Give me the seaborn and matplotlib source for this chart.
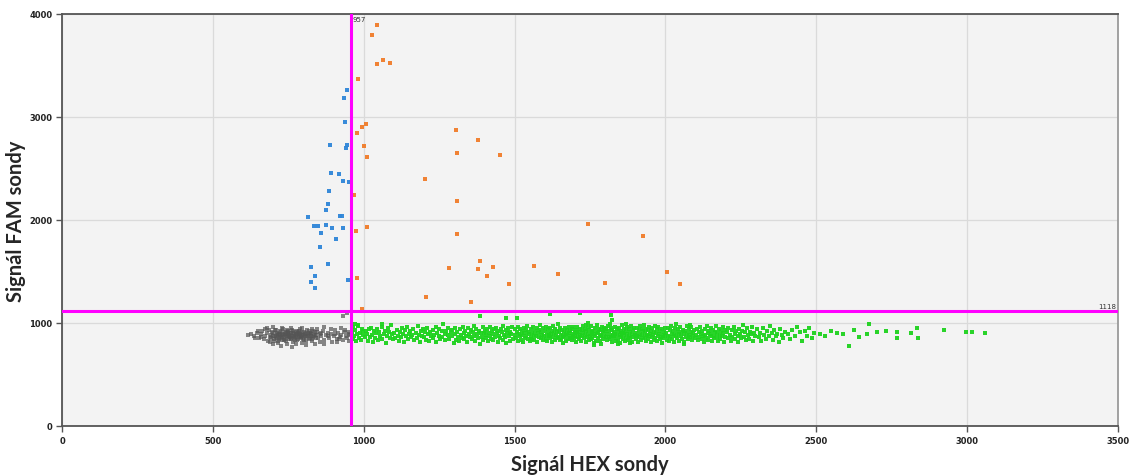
import matplotlib
matplotlib.use("Agg")
import matplotlib.pyplot as plt
import seaborn as sns
import pandas as pd

# Droplet amplitudes (HEX channel, FAM channel) per cluster
FAM_POSITIVE = [
    (944, 3265), (935, 3181), (939, 2951), (889, 2728), (944, 2731), (941, 2702),
    (892, 2459), (918, 2447), (932, 2375), (951, 2366), (885, 2282), (883, 2152),
    (876, 2100), (920, 2042), (928, 2042), (814, 2032), (834, 1939), (850, 1945),
    (875, 1951), (894, 1925), (932, 1919), (860, 1870), (907, 1816), (855, 1735),
    (824, 1547), (882, 1576), (839, 1453), (826, 1401), (839, 1340), (948, 1414),
]

DOUBLE_POSITIVE = [
    (1044, 3890), (1029, 3796), (1044, 3515), (1065, 3557), (1088, 3527), (982, 3369),
    (1009, 2932), (995, 2903), (978, 2845), (1002, 2715), (1010, 2608), (1306, 2877),
    (1379, 2777), (1309, 2647), (1453, 2634), (1204, 2401), (967, 2246), (1308, 2184),
    (1743, 1958), (976, 1896), (1012, 1932), (1310, 1864), (1385, 1602), (1283, 1534),
    (1379, 1527), (1428, 1541), (1564, 1550), (1408, 1459), (1643, 1476), (1483, 1376),
    (979, 1434), (1207, 1252), (1357, 1201), (994, 1133), (1926, 1848), (2006, 1495),
    (2047, 1379), (1800, 1391),
]

NEGATIVE = [
    (692, 880), (697, 912), (701, 846), (705, 931), (709, 867), (713, 898), (717, 825), (721, 921),
    (725, 858), (729, 889), (733, 940), (737, 836), (741, 904), (745, 871), (749, 917), (753, 848),
    (757, 885), (761, 929), (765, 819), (769, 896), (773, 862), (777, 910), (781, 841), (785, 926),
    (789, 877), (793, 853), (797, 915), (801, 832), (805, 892), (809, 864), (813, 936), (817, 849),
    (821, 903), (825, 873), (829, 827), (833, 918), (837, 886), (841, 857), (845, 908), (694, 858),
    (698, 899), (702, 826), (706, 877), (710, 935), (714, 851), (718, 892), (722, 868), (726, 916),
    (730, 839), (734, 883), (738, 908), (742, 822), (746, 929), (750, 864), (754, 900), (758, 842),
    (762, 874), (766, 921), (770, 853), (774, 887), (778, 834), (782, 902), (786, 866), (790, 938),
    (794, 880), (798, 847), (802, 911), (806, 873), (810, 826), (814, 897), (818, 920), (822, 858),
    (826, 889), (830, 843), (834, 872), (838, 912), (842, 879), (700, 870), (712, 906), (724, 881),
    (736, 862), (748, 890), (760, 907), (772, 838), (784, 884), (796, 870), (808, 902), (820, 885),
    (832, 861), (744, 882), (756, 866), (768, 878), (780, 891), (792, 860), (716, 885), (728, 870),
    (740, 893), (752, 876), (764, 905), (776, 872), (788, 895), (800, 882), (812, 877), (824, 902),
    (740, 845), (760, 855), (780, 918), (720, 846), (750, 927), (790, 900),
    (617, 885), (628, 896), (636, 871), (645, 907), (652, 858), (658, 889), (664, 921), (668, 842),
    (673, 875), (678, 903), (682, 829), (686, 934), (688, 862), (680, 950), (700, 958), (715, 805),
    (730, 952), (745, 800), (760, 948), (775, 795), (795, 955), (810, 790), (830, 945), (850, 852),
    (855, 898), (860, 871), (865, 925), (870, 838), (875, 883), (880, 907), (885, 856), (890, 891),
    (895, 820), (900, 873), (905, 936), (910, 849), (915, 902), (920, 866), (925, 884), (930, 839),
    (935, 911), (940, 875), (945, 858), (950, 897), (954, 880), (855, 815), (868, 960), (890, 945),
    (912, 812), (938, 930), (700, 795), (725, 780), (762, 770), (795, 805), (838, 800), (660, 860),
    (648, 920), (640, 850), (672, 940), (690, 818), (870, 800), (925, 955), (950, 830), (882, 870),
    (845, 940), (905, 890), (918, 845), (860, 905), (948, 915), (930, 1071), (946, 1100),
]

HEX_POSITIVE = [
    (960, 912), (963, 846), (966, 958), (969, 873), (972, 931), (975, 822), (978, 889), (981, 967),
    (984, 851), (987, 904), (990, 838), (993, 944), (996, 880), (999, 919), (970, 995),
    (1003, 861), (1006, 926), (1010, 896), (1013, 829), (1017, 938), (1020, 868), (1024, 953),
    (1027, 885), (1031, 815), (1034, 925), (1038, 857), (1041, 901), (1045, 943), (1048, 834),
    (1052, 909), (1055, 877), (1059, 962), (1062, 848), (1066, 892), (1069, 927), (1073, 806),
    (1076, 870), (1080, 949), (1083, 917), (1087, 859), (1090, 983), (1094, 895), (1097, 840),
    (1102, 905), (1105, 853), (1109, 935), (1112, 878), (1116, 826), (1119, 914), (1123, 866),
    (1126, 947), (1130, 890), (1133, 818), (1137, 929), (1140, 872), (1144, 958), (1147, 843),
    (1151, 898), (1154, 921), (1158, 861), (1161, 883), (1165, 940), (1168, 831), (1172, 906),
    (1175, 852), (1179, 969), (1182, 887), (1186, 812), (1189, 924), (1193, 875), (1196, 946),
    (1201, 864), (1204, 917), (1208, 839), (1211, 951), (1214, 893), (1218, 825), (1221, 909),
    (1224, 872), (1228, 936), (1231, 854), (1234, 887), (1238, 962), (1241, 818), (1244, 901),
    (1248, 876), (1251, 943), (1254, 847), (1258, 920), (1261, 865), (1264, 989), (1268, 898),
    (1271, 832), (1274, 927), (1278, 881), (1281, 956), (1284, 841), (1288, 912), (1291, 869),
    (1294, 934), (1298, 808),
    (1301, 892), (1304, 948), (1307, 835), (1310, 915), (1313, 867), (1316, 821), (1319, 939),
    (1322, 884), (1325, 857), (1328, 966), (1331, 903), (1334, 844), (1337, 926), (1340, 878),
    (1343, 811), (1346, 953), (1349, 896), (1352, 862), (1355, 931), (1358, 849), (1361, 910),
    (1364, 974), (1367, 873), (1370, 828), (1373, 942), (1376, 889), (1379, 855), (1382, 921),
    (1385, 800), (1388, 907), (1391, 868), (1394, 958), (1397, 837), (1399, 899),
    (1401, 927), (1404, 859), (1406, 884), (1409, 945), (1412, 821), (1414, 906), (1417, 873),
    (1420, 962), (1422, 846), (1425, 918), (1428, 891), (1430, 833), (1433, 937), (1436, 866),
    (1438, 955), (1441, 899), (1444, 815), (1446, 924), (1449, 877), (1452, 851), (1454, 946),
    (1457, 909), (1460, 838), (1462, 970), (1465, 886), (1468, 862), (1470, 931), (1473, 807),
    (1476, 902), (1478, 948), (1481, 870), (1484, 826), (1486, 915), (1489, 893), (1492, 957),
    (1495, 845),
    (1501, 881), (1503, 938), (1505, 852), (1508, 910), (1510, 966), (1512, 827), (1514, 897),
    (1517, 871), (1519, 944), (1521, 839), (1523, 922), (1526, 886), (1528, 812), (1530, 953),
    (1532, 903), (1535, 858), (1537, 929), (1539, 876), (1541, 968), (1544, 843), (1546, 914),
    (1548, 891), (1550, 821), (1553, 940), (1555, 866), (1557, 906), (1559, 849), (1562, 959),
    (1564, 883), (1566, 831), (1568, 925), (1571, 872), (1573, 947), (1575, 817), (1577, 899),
    (1580, 862), (1582, 934), (1584, 978), (1586, 855), (1589, 911), (1591, 888), (1593, 836),
    (1595, 951), (1598, 869),
    (1601, 918), (1603, 847), (1605, 963), (1607, 884), (1609, 826), (1611, 939), (1613, 870),
    (1615, 904), (1617, 853), (1619, 948), (1621, 892), (1623, 815), (1625, 927), (1627, 866),
    (1629, 972), (1631, 901), (1633, 838), (1635, 943), (1637, 879), (1639, 857), (1641, 921),
    (1643, 986), (1645, 862), (1647, 909), (1649, 831), (1651, 955), (1653, 888), (1655, 844),
    (1657, 933), (1659, 875), (1661, 808), (1663, 913), (1665, 867), (1667, 950), (1669, 896),
    (1671, 822), (1673, 936), (1675, 881), (1677, 849), (1679, 966), (1681, 902), (1683, 858),
    (1685, 925), (1687, 873), (1689, 941), (1691, 835), (1693, 890), (1695, 961), (1697, 851),
    (1699, 911),
    (1700, 877), (1702, 932), (1704, 819), (1706, 899), (1708, 958), (1710, 864), (1712, 917),
    (1714, 842), (1716, 946), (1718, 887), (1720, 826), (1722, 929), (1724, 871), (1726, 975),
    (1728, 905), (1730, 853), (1732, 940), (1734, 882), (1736, 812), (1738, 921), (1740, 866),
    (1742, 957), (1744, 894), (1746, 836), (1748, 936), (1750, 877), (1752, 847), (1754, 968),
    (1756, 910), (1758, 859), (1760, 926), (1762, 803), (1764, 889), (1766, 949), (1768, 869),
    (1770, 829), (1772, 915), (1774, 983), (1776, 855), (1778, 902), (1780, 940), (1782, 874),
    (1784, 821), (1786, 930), (1788, 885), (1790, 963), (1792, 848), (1794, 908), (1796, 871),
    (1798, 953), (1745, 998), (1763, 790), (1737, 980), (1785, 800), (1757, 895),
    (1800, 918), (1802, 860), (1804, 945), (1806, 831), (1808, 896), (1810, 972), (1812, 867),
    (1814, 923), (1816, 844), (1818, 956), (1820, 884), (1822, 815), (1824, 934), (1826, 876),
    (1828, 909), (1830, 852), (1832, 965), (1834, 893), (1836, 827), (1838, 942), (1840, 871),
    (1842, 915), (1844, 839), (1846, 953), (1848, 887), (1850, 808), (1852, 927), (1854, 864),
    (1856, 980), (1858, 903), (1860, 846), (1862, 938), (1864, 880), (1866, 825), (1868, 919),
    (1870, 859), (1872, 961), (1874, 897), (1876, 835), (1878, 946), (1880, 873), (1882, 911),
    (1884, 850), (1886, 970), (1888, 890), (1890, 820), (1892, 931), (1894, 868), (1896, 951),
    (1898, 882), (1817, 995), (1843, 795), (1869, 990), (1881, 802), (1855, 905),
    (1901, 906), (1903, 843), (1905, 952), (1907, 874), (1909, 818), (1911, 929), (1913, 866),
    (1915, 967), (1917, 891), (1919, 834), (1921, 940), (1923, 880), (1925, 857), (1927, 919),
    (1929, 978), (1931, 862), (1933, 903), (1935, 827), (1937, 945), (1939, 886), (1941, 847),
    (1943, 933), (1945, 872), (1947, 958), (1949, 897), (1951, 812), (1953, 924), (1955, 865),
    (1957, 949), (1959, 883), (1961, 838), (1963, 914), (1965, 971), (1967, 855), (1969, 900),
    (1971, 824), (1973, 937), (1975, 876), (1977, 963), (1979, 892), (1981, 845), (1983, 926),
    (1985, 868), (1987, 809), (1989, 942), (1991, 887), (1993, 853), (1995, 917), (1997, 955),
    (1999, 870),
    (2002, 901), (2004, 837), (2007, 948), (2009, 878), (2011, 822), (2014, 930), (2016, 865),
    (2018, 969), (2021, 893), (2023, 846), (2025, 921), (2028, 884), (2030, 811), (2032, 952),
    (2035, 871), (2037, 909), (2039, 856), (2042, 940), (2044, 889), (2046, 829), (2049, 962),
    (2051, 875), (2053, 917), (2056, 849), (2058, 934), (2060, 897), (2063, 816), (2065, 925),
    (2067, 868), (2070, 975), (2072, 906), (2074, 842), (2077, 944), (2079, 881), (2081, 860),
    (2084, 913), (2086, 957), (2088, 833), (2091, 899), (2093, 872), (2095, 936), (2098, 853),
    (2035, 990), (2062, 795), (2083, 985),
    (2102, 887), (2105, 945), (2107, 832), (2110, 912), (2112, 866), (2115, 960), (2117, 896),
    (2120, 845), (2122, 927), (2125, 875), (2127, 815), (2130, 939), (2132, 883), (2135, 857),
    (2137, 971), (2140, 905), (2142, 838), (2145, 921), (2147, 869), (2150, 951), (2152, 892),
    (2155, 824), (2157, 934), (2160, 878), (2162, 851), (2165, 916), (2167, 967), (2170, 862),
    (2172, 903), (2175, 830), (2177, 942), (2180, 886), (2182, 847), (2185, 925), (2187, 873),
    (2190, 958), (2192, 899), (2195, 819), (2197, 931), (2199, 864),
    (2203, 908), (2206, 851), (2209, 949), (2213, 880), (2216, 826), (2219, 933), (2222, 867),
    (2226, 964), (2229, 895), (2232, 840), (2235, 921), (2239, 873), (2242, 812), (2245, 944),
    (2248, 889), (2252, 857), (2255, 927), (2258, 976), (2261, 866), (2265, 911), (2268, 835),
    (2271, 953), (2274, 882), (2278, 848), (2281, 917), (2284, 896), (2287, 962), (2291, 829),
    (2294, 904), (2297, 871),
    (2304, 937), (2309, 862), (2314, 899), (2318, 825), (2323, 951), (2328, 884), (2333, 845),
    (2337, 918), (2342, 875), (2347, 967), (2352, 903), (2356, 833), (2361, 929), (2366, 869),
    (2371, 890), (2375, 818), (2380, 944), (2385, 881), (2390, 858), (2395, 912),
    (2405, 896), (2413, 842), (2421, 935), (2429, 871), (2437, 960), (2445, 909), (2453, 826),
    (2461, 918), (2469, 877), (2477, 951), (2485, 853), (2494, 903),
    (2512, 895), (2530, 872), (2548, 918), (2567, 903), (2588, 897), (2609, 777), (2625, 932),
    (2640, 868), (2667, 890), (2676, 990), (2700, 912), (2730, 920), (2767, 910), (2769, 851),
    (2813, 906), (2833, 948), (2837, 851), (2924, 932), (2996, 910), (3017, 912), (3059, 900),
    (982, 978), (1059, 987), (1386, 1065), (1472, 1051), (1509, 1051), (1617, 1090),
    (1717, 1097), (1820, 1078), (1822, 1032),
]

CLUSTER_NAMES = ["negative", "hex", "fam", "double"]
CLUSTER_COLORS = {"negative": "#555555", "hex": "#1ed21e", "fam": "#2f86d8", "double": "#f07c2a"}
CLUSTER_ALPHA = {"negative": 0.7, "hex": 0.95, "fam": 0.95, "double": 0.95}

FAM_THRESHOLD = 1118
HEX_THRESHOLD = 957

X_TICKS = [0, 500, 1000, 1500, 2000, 2500, 3000, 3500]
Y_TICKS = [0, 1000, 2000, 3000, 4000]
X_LABEL = "Signál HEX sondy"
Y_LABEL = "Signál FAM sondy"

sns.set_style("whitegrid", {
    "axes.facecolor": "#f3f3f3",
    "grid.color": "#dadada",
    "axes.edgecolor": "#606060",
})
plt.rcParams["font.family"] = ["DejaVu Sans"]

fig = plt.figure(figsize=(11.35, 4.77), dpi=100)
ax = fig.add_axes([62 / 1135, 1 - 427 / 477, (1118 - 62) / 1135, (427 - 15) / 477])

for name, pts in zip(CLUSTER_NAMES, [NEGATIVE, HEX_POSITIVE, FAM_POSITIVE, DOUBLE_POSITIVE]):
    df = pd.DataFrame(pts, columns=["hex", "fam"])
    sns.scatterplot(
        data=df, x="hex", y="fam", color=CLUSTER_COLORS[name], marker="s",
        s=6.5, linewidth=0, alpha=CLUSTER_ALPHA[name], legend=False, ax=ax, zorder=3,
    )

ax.axvline(HEX_THRESHOLD, color="#ff00ff", lw=2.2, zorder=4)
ax.axhline(FAM_THRESHOLD, color="#ff00ff", lw=2.2, zorder=4)
ax.text(HEX_THRESHOLD + 5, 3985, str(HEX_THRESHOLD), fontsize=5, va="top", ha="left", color="#333333", zorder=5)
ax.text(3495, FAM_THRESHOLD + 20, str(FAM_THRESHOLD), fontsize=5, va="bottom", ha="right", color="#333333", zorder=5)

ax.set_xlim(0, 3500)
ax.set_ylim(0, 4000)
ax.set_xticks(X_TICKS)
ax.set_yticks(Y_TICKS)
ax.grid(True, lw=0.9)
ax.tick_params(axis="both", which="major", direction="out", length=4, width=1,
               color="#555555", labelsize=6, labelcolor="#222222", pad=3,
               bottom=True, left=True)
for lab in ax.get_xticklabels() + ax.get_yticklabels():
    lab.set_fontweight("bold")

for side in ["left", "bottom", "top"]:
    ax.spines[side].set_color("#555555")
    ax.spines[side].set_linewidth(1.3)
ax.spines["right"].set_color("#9a9a9a")
ax.spines["right"].set_linewidth(1.3)

ax.set_xlabel(X_LABEL, fontsize=14.5, fontweight="bold", family="Lato", labelpad=7)
ax.set_ylabel(Y_LABEL, fontsize=14.5, fontweight="bold", family="Lato", labelpad=2)

fig.savefig("out.png", dpi=100)
